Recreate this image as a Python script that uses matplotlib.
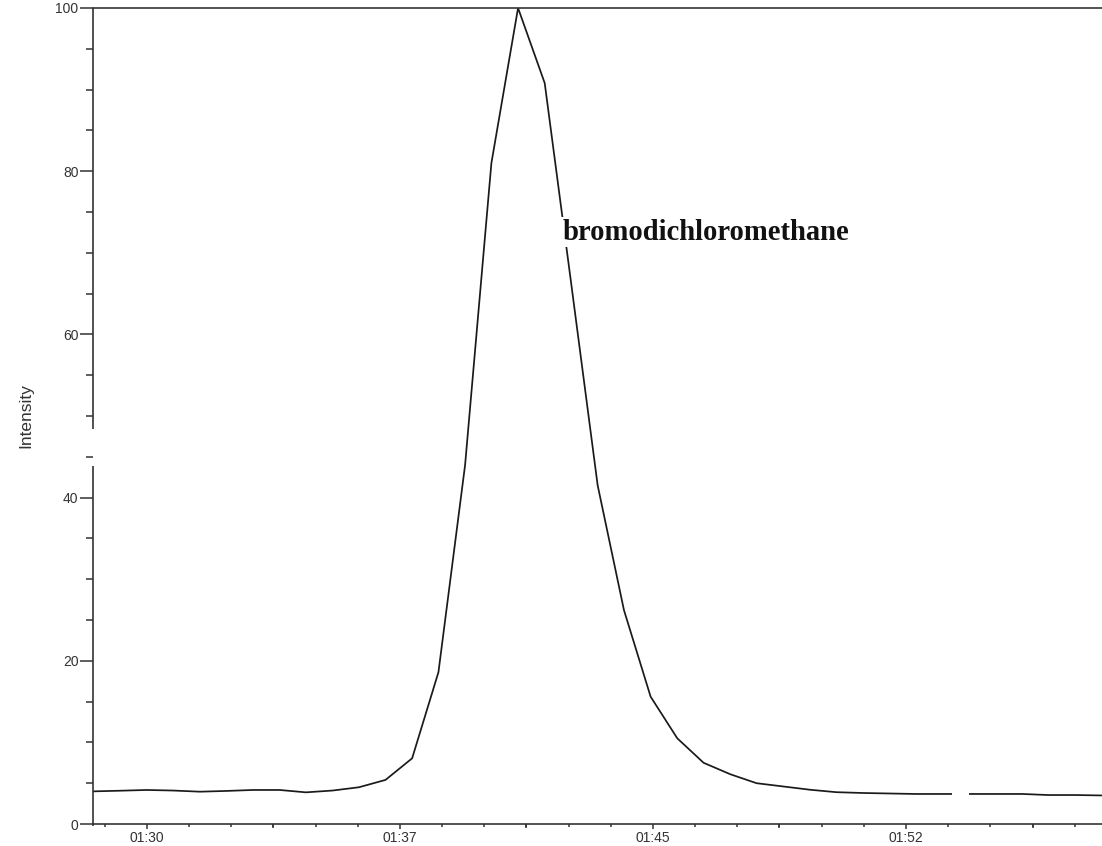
import matplotlib
matplotlib.use('Agg')
import matplotlib.pyplot as plt
import matplotlib.transforms as mtransforms
from matplotlib.patches import Rectangle
from matplotlib.ticker import FixedLocator, MultipleLocator, FuncFormatter

plt.rcParams['font.family'] = ['Liberation Sans', 'DejaVu Sans']

# retention time (s) and relative intensity (%) of the extracted ion trace
time_s = [88.42, 89.21, 89.99, 90.78, 91.57, 92.35, 93.14, 93.93, 94.71, 95.50,
          96.28, 97.07, 97.86, 98.64, 99.43, 100.21, 101.00, 101.79, 102.57, 103.36,
          104.14, 104.93, 105.72, 106.50, 107.29, 108.07, 108.86, 109.65, 110.43, 111.22,
          112.00, 112.79, 113.58, 114.36, 115.15, 115.94, 116.72, 117.51, 118.29]
intensity = [4.00, 4.08, 4.17, 4.10, 3.96, 4.05, 4.17, 4.17, 3.88, 4.10,
             4.50, 5.40, 8.05, 18.6, 44.0, 81.0, 100.0, 90.8, 66.4, 41.5,
             26.2, 15.6, 10.5, 7.5, 6.1, 5.0, 4.6, 4.2, 3.9, 3.8,
             3.74, 3.68, 3.68, 3.68, 3.68, 3.68, 3.55, 3.55, 3.50]

peak_label = 'bromodichloromethane'
label_time = 102.33
label_level = 71.6

x_major = [90.0, 97.5, 105.0, 112.5]
x_mid = [93.75, 101.25, 108.75, 116.25]
y_major = [0, 20, 40, 60, 80, 100]

axis_break = (43.9, 48.4)   # gap in the intensity axis line
trace_gap = (113.87, 114.37)  # dropout in the trace

ink = '#333333'


def mmss(t, pos):
    return f'{int(t // 60):02d}:{int(t % 60):02d}'


fig = plt.figure(figsize=(11.02, 8.46), dpi=100)
ax = fig.add_axes([93 / 1102, 22 / 846, 1 - 93 / 1102, 816 / 846])

ax.plot(time_s, intensity, color='#1a1a1a', lw=1.25, zorder=2)
ax.add_patch(Rectangle((trace_gap[0], 2.5), trace_gap[1] - trace_gap[0], 2.5,
                       facecolor='white', edgecolor='none', zorder=3))

ax.text(label_time, label_level, peak_label, family=['Liberation Serif', 'DejaVu Serif'],
        weight='bold', fontsize=20.6, color='#111111', ha='left', va='baseline',
        bbox=dict(facecolor='white', edgecolor='none', pad=1), zorder=4)

ax.set_xlim(88.40, 118.31)
ax.set_ylim(0, 100)

for side in ('left', 'right'):
    ax.spines[side].set_visible(False)
for side in ('top', 'bottom'):
    ax.spines[side].set_color(ink)
    ax.spines[side].set_linewidth(1.2)

# left axis line drawn by hand so it can carry the break
trans = mtransforms.blended_transform_factory(ax.transAxes, ax.transData)
for lo, hi in ((-0.2, axis_break[0]), (axis_break[1], 100)):
    ax.plot([0, 0], [lo, hi], transform=trans, clip_on=False, color=ink,
            lw=1.2, solid_capstyle='butt', zorder=5)

ax.yaxis.set_major_locator(FixedLocator(y_major))
ax.yaxis.set_minor_locator(MultipleLocator(5))
ax.tick_params(axis='y', which='major', length=9.5, width=1.1, color=ink,
               pad=1, labelsize=10, labelcolor=ink)
ax.tick_params(axis='y', which='minor', length=5, width=1.1, color=ink)

ax.xaxis.set_major_locator(FixedLocator(x_major))
ax.xaxis.set_minor_locator(MultipleLocator(1.25))
ax.xaxis.set_major_formatter(FuncFormatter(mmss))
ax.tick_params(axis='x', which='major', length=3.8, width=1.1, color=ink,
               pad=1, labelsize=10, labelcolor=ink)
ax.tick_params(axis='x', which='minor', length=2, width=1.1, color=ink)

sec = ax.secondary_xaxis('bottom')
sec.set_xticks(x_mid)
sec.tick_params(length=3, width=1.1, color=ink, labelbottom=False)
sec.spines['bottom'].set_visible(False)

ax.set_ylabel('Intensity', fontsize=12.5, color=ink)
ax.yaxis.set_label_coords(-0.0595, 0.5)

fig.savefig('out.png', dpi=100)
